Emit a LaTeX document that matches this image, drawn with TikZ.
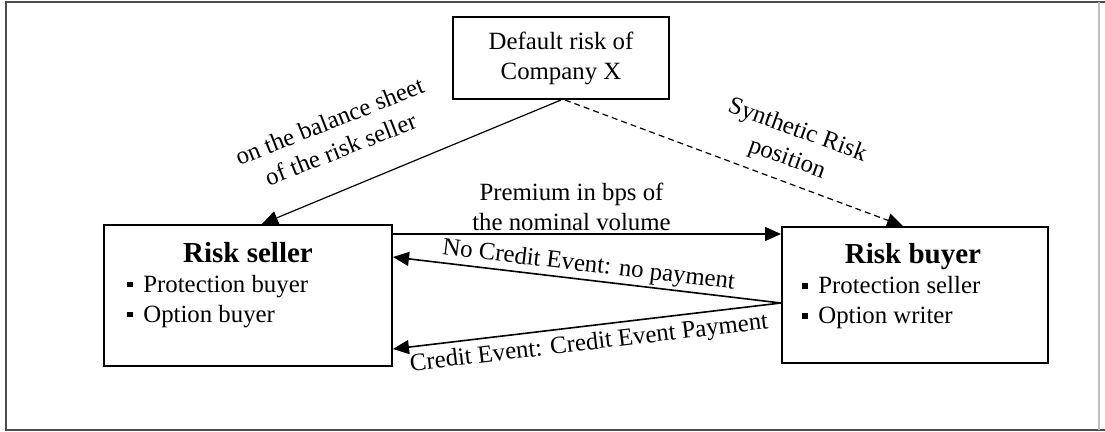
\documentclass[tikz,border=0pt]{standalone}
\usepackage{fontspec}
\setmainfont{Liberation Serif}
\usetikzlibrary{arrows.meta,positioning}

\newcommand{\itm}{\makebox[8pt][l]{\rule[0.22em]{2.6pt}{2.6pt}}}

\tikzset{
	party/.style={draw,line width=1pt,inner sep=0pt},
	txt/.style={font=\fontsize{12.4}{15}\selectfont,inner sep=1pt,align=center},
	ttl/.style={font=\fontsize{14.5}{17}\selectfont\bfseries,inner sep=0pt},
	flow/.style={-{Triangle[length=8pt,width=7pt]},line width=0.8pt},
	back/.style={{Triangle[length=8pt,width=7pt]}-,line width=0.8pt},
}

\begin{document}
\begin{tikzpicture}[x=0.5pt,y=-0.5pt]
		\useasboundingbox (0,0) rectangle (1105,432);
		
		% Set up the frame
		\draw[line width=1pt,black!70] (1105,2) -- (6,2) -- (6,430.5) -- (1105,430.5);
		\draw[line width=0.6pt,black!25] (1099,2) -- (1099,430.5);
		
		% Set up the boxes (the parties)
		\node[party,txt,minimum width=108pt,minimum height=41pt] (risk) at (561,58) {Default risk of\\Company X};
		\node[party,minimum width=144pt,minimum height=70.5pt] (seller) at (248,295.5) {};
		\node[ttl] at (248,253) {Risk seller};
		\node[txt,anchor=west,align=left] at (125,302) {\itm Protection buyer\\\itm Option buyer};
		\node[party,minimum width=133pt,minimum height=68pt] (buyer) at (915,295) {};
		\node[ttl] at (913,257) {Risk buyer};
		\node[txt,anchor=west,align=left] at (800,303) {\itm Protection seller\\\itm Option writer};
		\coordinate (fork) at ([yshift=-4pt]buyer.west);
		
		% Add the arrows
		\draw[flow,line width=0.6pt] (risk.south) -- ([xshift=7pt]seller.north);
		\draw[flow,line width=0.6pt,dash pattern=on 3pt off 2pt] ([xshift=2pt]risk.south) -- ([xshift=-6pt]buyer.north);
		\draw[flow] ([yshift=-5pt]seller.north east) -- node[txt,above,pos=0.46]{Premium in bps of\\the nominal volume} ([yshift=-5pt]seller.north east -| buyer.west);
		\draw[back] ([yshift=-16.5pt]seller.north east) -- node[txt,sloped,above]{No Credit Event: no payment} (fork);
		\draw[back] ([yshift=9pt]seller.south east) -- node[txt,sloped,below=2pt]{Credit Event: Credit Event Payment} (fork);
		
		% Labels of the risk arrows
		\node[txt,rotate=21.5] at (335,135) {on the balance sheet\\of the risk seller};
		\node[txt,rotate=-20] at (792,145) {Synthetic Risk\\position};
	\end{tikzpicture}
\end{document}
